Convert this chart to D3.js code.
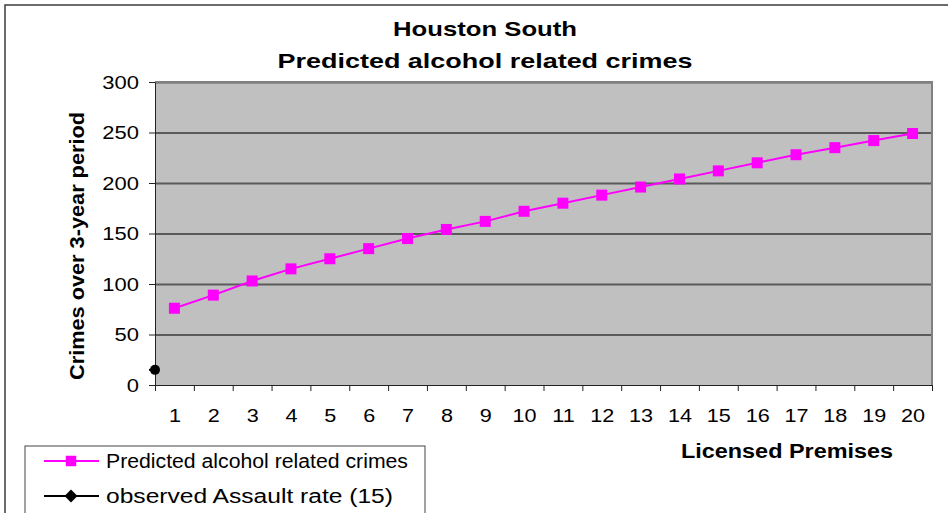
<!DOCTYPE html>
<html>
<head>
<meta charset="utf-8">
<script src="https://cdn.jsdelivr.net/npm/d3@7"></script>
<style>
  body { margin: 0; background: #fff; }
  text { font-family: "Liberation Sans", Arial, sans-serif; fill: #000; }
</style>
</head>
<body>
<div id="chart"></div>
<script>
// data
const premises = d3.range(1, 21);
const predictedCrimes = [76, 89, 103, 115, 125, 135, 145, 154, 162, 172, 180, 188, 196, 204, 212, 220, 228, 235, 242, 249];
const observedAssault = [{ x: 0.5, y: 15 }];
const yTicks = [0, 50, 100, 150, 200, 250, 300];
const titleLines = ["Houston South", "Predicted alcohol related crimes"];
const legendLabels = ["Predicted alcohol related crimes", "observed Assault rate (15)"];

const width = 948, height = 513;
const plot = { left: 155, right: 932, top: 82, bottom: 385 };

const svg = d3.select("#chart").append("svg")
  .attr("width", width)
  .attr("height", height);

// stretch text horizontally (reference text is rendered wide)
function stretch(sel, k) {
  sel.each(function () {
    const len = this.getComputedTextLength();
    d3.select(this).attr("textLength", len * k).attr("lengthAdjust", "spacingAndGlyphs");
  });
}

// outer chart frame
svg.append("rect")
  .attr("x", 5).attr("y", 5)
  .attr("width", width + 10).attr("height", height + 10)
  .attr("fill", "none").attr("stroke", "#3c3c3c").attr("stroke-width", 1.5);

const x = d3.scaleLinear().domain([0.5, 20.5]).range([plot.left, plot.right]);
const y = d3.scaleLinear().domain([0, 300]).range([plot.bottom, plot.top]);

// plot area
svg.append("rect")
  .attr("x", plot.left).attr("y", plot.top)
  .attr("width", plot.right - plot.left).attr("height", plot.bottom - plot.top)
  .attr("fill", "#c0c0c0");

// gridlines
svg.append("g")
  .attr("transform", `translate(${plot.left},0)`)
  .call(d3.axisLeft(y).tickValues(yTicks.slice(1)).tickSize(-(plot.right - plot.left)).tickFormat(""))
  .call((g) => g.select(".domain").remove())
  .selectAll("line").attr("stroke", "#5a5a5a").attr("stroke-width", 2);

// plot border top/right
svg.append("path")
  .attr("d", `M${plot.left},${plot.top}H${plot.right}V${plot.bottom}`)
  .attr("fill", "none").attr("stroke", "#808080").attr("stroke-width", 2);

// y axis
const yAxisG = svg.append("g")
  .attr("transform", `translate(${plot.left},0)`)
  .call(d3.axisLeft(y).tickValues(yTicks).tickSize(6).tickSizeOuter(0).tickPadding(10));
yAxisG.selectAll("path, line").attr("stroke", "#222");
yAxisG.selectAll("text").attr("font-size", "18px").attr("fill", "#000").attr("dy", "0.35em")
  .call(stretch, 1.22);

// x axis: boundary ticks
const bounds = d3.range(0.5, 21, 1);
const xAxisG = svg.append("g")
  .attr("transform", `translate(0,${plot.bottom})`)
  .call(d3.axisBottom(x).tickValues(bounds).tickSize(6).tickSizeOuter(0).tickFormat(""));
xAxisG.selectAll("path, line").attr("stroke", "#222");

// x axis: category labels
const xLabelG = svg.append("g")
  .attr("transform", `translate(0,${plot.bottom})`)
  .call(d3.axisBottom(x).tickValues(premises).tickSize(0).tickPadding(35).tickFormat(d3.format("d")));
xLabelG.select(".domain").remove();
xLabelG.selectAll("text").attr("font-size", "18px").attr("fill", "#000").attr("dy", "0.1em")
  .call(stretch, 1.2);

// predicted line + markers
const line = d3.line().x((d, i) => x(premises[i])).y((d) => y(d));
svg.append("path")
  .datum(predictedCrimes)
  .attr("d", line)
  .attr("fill", "none").attr("stroke", "#ff00ff").attr("stroke-width", 2);

const sq = 11;
svg.append("g").selectAll("rect")
  .data(predictedCrimes)
  .join("rect")
  .attr("x", (d, i) => x(premises[i]) - sq / 2)
  .attr("y", (d) => y(d) - sq / 2)
  .attr("width", sq).attr("height", sq)
  .attr("fill", "#ff00ff");

// observed assault point
svg.append("g").selectAll("line")
  .data(observedAssault)
  .join("line")
  .attr("x1", (d) => x(d.x) - 6).attr("x2", (d) => x(d.x))
  .attr("y1", (d) => y(d.y)).attr("y2", (d) => y(d.y))
  .attr("stroke", "#000").attr("stroke-width", 2);
svg.append("g").selectAll("circle")
  .data(observedAssault)
  .join("circle")
  .attr("cx", (d) => x(d.x)).attr("cy", (d) => y(d.y))
  .attr("r", 5).attr("fill", "#000");

// titles
svg.append("text")
  .attr("x", 485).attr("y", 36)
  .attr("text-anchor", "middle").attr("font-size", "21px").attr("font-weight", "bold")
  .attr("textLength", 184).attr("lengthAdjust", "spacingAndGlyphs")
  .text(titleLines[0]);
svg.append("text")
  .attr("x", 485).attr("y", 68)
  .attr("text-anchor", "middle").attr("font-size", "21px").attr("font-weight", "bold")
  .attr("textLength", 415).attr("lengthAdjust", "spacingAndGlyphs")
  .text(titleLines[1]);

// axis titles
svg.append("text")
  .attr("transform", "translate(84,246) rotate(-90)")
  .attr("text-anchor", "middle").attr("font-size", "21px").attr("font-weight", "bold")
  .attr("textLength", 268).attr("lengthAdjust", "spacingAndGlyphs")
  .text("Crimes over 3-year period");
svg.append("text")
  .attr("x", 787).attr("y", 458)
  .attr("text-anchor", "middle").attr("font-size", "20px").attr("font-weight", "bold")
  .attr("textLength", 212).attr("lengthAdjust", "spacingAndGlyphs")
  .text("Licensed Premises");

// legend
const legend = svg.append("g");
legend.append("rect")
  .attr("x", 25).attr("y", 446).attr("width", 400).attr("height", 90)
  .attr("fill", "#fff").attr("stroke", "#444").attr("stroke-width", 1);

const legendRows = [
  { label: legendLabels[0], color: "#ff00ff", y: 461, w: 302, size: 110, rot: 0 },
  { label: legendLabels[1], color: "#000", y: 496, w: 287, size: 84, rot: 45 }
];
const rows = legend.selectAll("g.row").data(legendRows).join("g").attr("class", "row")
  .attr("transform", (d) => `translate(0,${d.y})`);
rows.append("line")
  .attr("x1", 44).attr("x2", 99)
  .attr("stroke", (d) => d.color).attr("stroke-width", 2);
rows.append("path")
  .attr("transform", (d) => `translate(71,0) rotate(${d.rot})`)
  .attr("d", (d) => d3.symbol().type(d3.symbolSquare).size(d.size)())
  .attr("fill", (d) => d.color);
rows.append("text")
  .attr("x", 106).attr("y", 7)
  .attr("font-size", "20px")
  .attr("textLength", (d) => d.w).attr("lengthAdjust", "spacingAndGlyphs")
  .text((d) => d.label);
</script>
</body>
</html>
